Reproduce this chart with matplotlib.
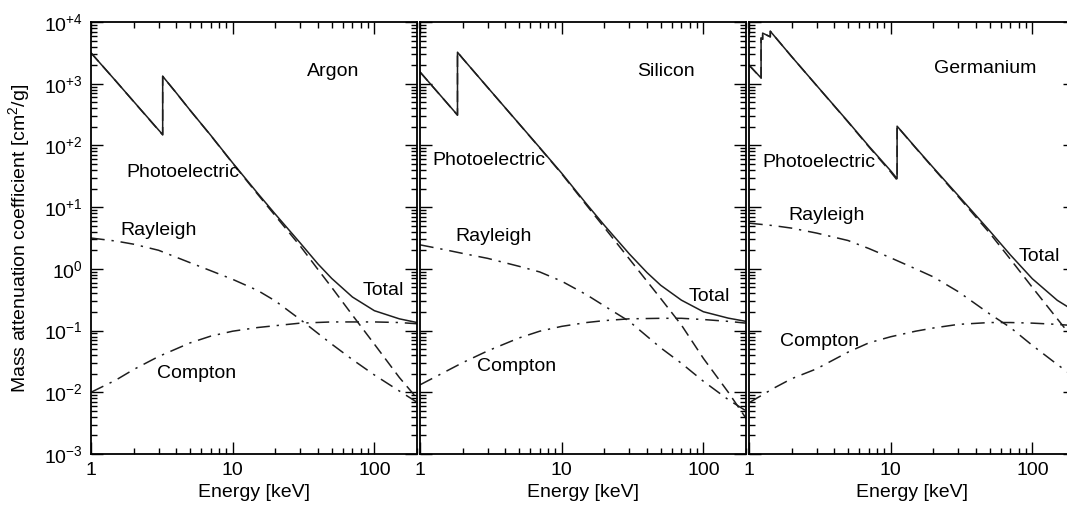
import math
import matplotlib
matplotlib.use('Agg')
import matplotlib.pyplot as plt
from matplotlib.ticker import LogLocator, FuncFormatter, NullFormatter

plt.rcParams['font.family'] = ['Liberation Sans', 'DejaVu Sans']
plt.rcParams['font.size'] = 14

# Photoelectric and total cross sections (cm^2/g); edge energies appear twice
ar_edge_e = [1, 1.5, 2, 3, 3.206, 3.206, 4, 5, 7, 10, 15, 20, 30, 40, 50, 70, 100, 150, 200]
ar_photo = [3160, 1100, 513, 176, 148, 1320, 708, 372, 145, 51.3, 16.2, 7.24, 2.34,
            0.977, 0.501, 0.178, 0.0603, 0.0174, 0.0080]
ar_total = [3160, 1100, 516, 178, 150, 1320, 710, 373, 146, 52.1, 16.8, 7.69, 2.62,
            1.20, 0.70, 0.350, 0.210, 0.155, 0.135]

si_edge_e = [1, 1.5, 1.839, 1.839, 2, 3, 5, 7, 10, 15, 20, 30, 40, 50, 70, 100, 150, 200]
si_photo = [1550, 531, 309, 3240, 2570, 871, 224, 91.2, 34.7, 10.7, 4.68, 1.45, 0.631,
            0.331, 0.123, 0.0355, 0.0100, 0.0038]
si_total = [1550, 533, 311, 3240, 2570, 873, 225, 92.2, 35.5, 11.2, 5.08, 1.75, 0.871,
            0.542, 0.311, 0.202, 0.159, 0.141]

ge_edge_e = [1, 1.1, 1.217, 1.217, 1.248, 1.248, 1.414, 1.414, 2, 3, 5, 7, 10, 11.1, 11.1,
             15, 20, 30, 50, 70, 100, 150, 200]
ge_photo = [2000, 1580, 1230, 5500, 5250, 6610, 5750, 7080, 2750, 933, 240, 95.5, 37.2,
            27.5, 204, 91.2, 42.7, 14.8, 3.80, 1.43, 0.501, 0.155, 0.0676]
ge_total = [2010, 1590, 1240, 5500, 5250, 6610, 5750, 7080, 2750, 937, 243, 97.7, 38.8,
            29.0, 205, 92.3, 43.6, 15.4, 4.12, 1.68, 0.691, 0.309, 0.205]

# Scattering cross sections on a common energy grid (keV)
scat_e = [1, 1.5, 2, 3, 5, 7, 10, 15, 20, 30, 50, 70, 100, 150, 200]
ar_rayleigh = [3.16, 2.82, 2.51, 2.00, 1.26, 0.933, 0.676, 0.447, 0.302, 0.151, 0.0603,
               0.0339, 0.0191, 0.0105, 0.0069]
ar_compton = [0.0100, 0.0158, 0.0234, 0.0380, 0.0631, 0.0813, 0.0977, 0.112, 0.120, 0.132,
              0.138, 0.138, 0.138, 0.135, 0.129]
si_rayleigh = [2.45, 2.04, 1.78, 1.48, 1.10, 0.891, 0.631, 0.380, 0.251, 0.141, 0.0525,
               0.0295, 0.0151, 0.0076, 0.0050]
si_compton = [0.0132, 0.0214, 0.0302, 0.0468, 0.0759, 0.0977, 0.117, 0.135, 0.145, 0.155,
              0.158, 0.158, 0.151, 0.141, 0.132]
ge_rayleigh = [5.50, 5.01, 4.57, 3.80, 2.88, 2.14, 1.51, 1.00, 0.741, 0.427, 0.186,
               0.112, 0.0575, 0.0282, 0.0174]
ge_compton = [0.00676, 0.0117, 0.0166, 0.0240, 0.0447, 0.0631, 0.0794, 0.0977, 0.110,
              0.126, 0.135, 0.135, 0.132, 0.126, 0.120]

elements = [
    ('Argon', ar_edge_e, ar_photo, ar_total, ar_rayleigh, ar_compton),
    ('Silicon', si_edge_e, si_photo, si_total, si_rayleigh, si_compton),
    ('Germanium', ge_edge_e, ge_photo, ge_total, ge_rayleigh, ge_compton),
]

# label placement in axes fractions: (x, y, ha)
label_pos = {
    'Argon': {'name': (0.742, 0.875, 'center'), 'Photoelectric': (0.110, 0.641, 'left'),
              'Rayleigh': (0.089, 0.507, 'left'), 'Total': (0.960, 0.368, 'right'),
              'Compton': (0.202, 0.176, 'left')},
    'Silicon': {'name': (0.665, 0.875, 'left'), 'Photoelectric': (0.037, 0.669, 'left'),
                'Rayleigh': (0.108, 0.493, 'left'), 'Total': (0.951, 0.354, 'right'),
                'Compton': (0.175, 0.192, 'left')},
    'Germanium': {'name': (0.566, 0.882, 'left'), 'Photoelectric': (0.040, 0.664, 'left'),
                  'Rayleigh': (0.120, 0.542, 'left'), 'Total': (0.828, 0.447, 'left'),
                  'Compton': (0.095, 0.250, 'left')},
}

W, H = 1067, 508
fig = plt.figure(figsize=(W / 100, H / 100), dpi=100)
panel_x = [91, 420, 749]
panel_w = 326
top_px, bottom_px = 22, 454

line_kw = dict(color='#1e1e1e', lw=1.1)
dashdot = (0, (9, 4.5, 1.5, 4.5))


def sup_fmt(v, pos):
    p = int(round(math.log10(v)))
    if p == 0:
        return r'$\mathregular{10^{0}}$'
    return r'$\mathregular{10^{%+d}}$' % p


for i, (name, edge_e, photo, total, rayl, compt) in enumerate(elements):
    ax = fig.add_axes([panel_x[i] / W, (H - bottom_px) / H,
                       panel_w / W, (bottom_px - top_px) / H])
    ax.plot(edge_e, photo, linestyle=(0, (7.5, 4)), **line_kw)
    ax.plot(scat_e, rayl, linestyle=dashdot, **line_kw)
    ax.plot(scat_e, compt, linestyle=dashdot, **line_kw)
    ax.plot(edge_e, total, linestyle='-', **line_kw)

    ax.set_xscale('log')
    ax.set_yscale('log')
    ax.set_xlim(1, 200)
    ax.set_ylim(1e-3, 1e4)

    ax.xaxis.set_major_locator(LogLocator(base=10, numticks=10))
    ax.xaxis.set_minor_locator(LogLocator(base=10, subs=range(2, 10), numticks=10))
    ax.xaxis.set_major_formatter(FuncFormatter(lambda v, p: '%g' % v))
    ax.xaxis.set_minor_formatter(NullFormatter())
    ax.yaxis.set_major_locator(LogLocator(base=10, numticks=20))
    ax.yaxis.set_minor_locator(LogLocator(base=10, subs=range(2, 10), numticks=20))
    ax.yaxis.set_minor_formatter(NullFormatter())
    if i == 0:
        ax.yaxis.set_major_formatter(FuncFormatter(sup_fmt))
        ax.set_ylabel(r'Mass attenuation coefficient [cm$\mathregular{^2}$/g]')
        ax.yaxis.set_label_coords(-0.18, 0.5)
    else:
        ax.yaxis.set_major_formatter(NullFormatter())

    ax.tick_params(which='both', direction='in', top=True, right=True, width=1.0)
    ax.tick_params(which='major', length=8.5, pad=6)
    ax.tick_params(which='minor', length=4.5)
    for s in ax.spines.values():
        s.set_linewidth(1.3)

    ax.set_xlabel('Energy [keV]')
    ax.xaxis.set_label_coords(0.5, -0.07)

    pos = label_pos[name]
    x, y, ha = pos['name']
    ax.text(x, y, name, transform=ax.transAxes, ha=ha, va='baseline')
    for key in ['Photoelectric', 'Rayleigh', 'Total', 'Compton']:
        x, y, ha = pos[key]
        ax.text(x, y, key, transform=ax.transAxes, ha=ha, va='baseline')

fig.savefig('out.png', dpi=100)
